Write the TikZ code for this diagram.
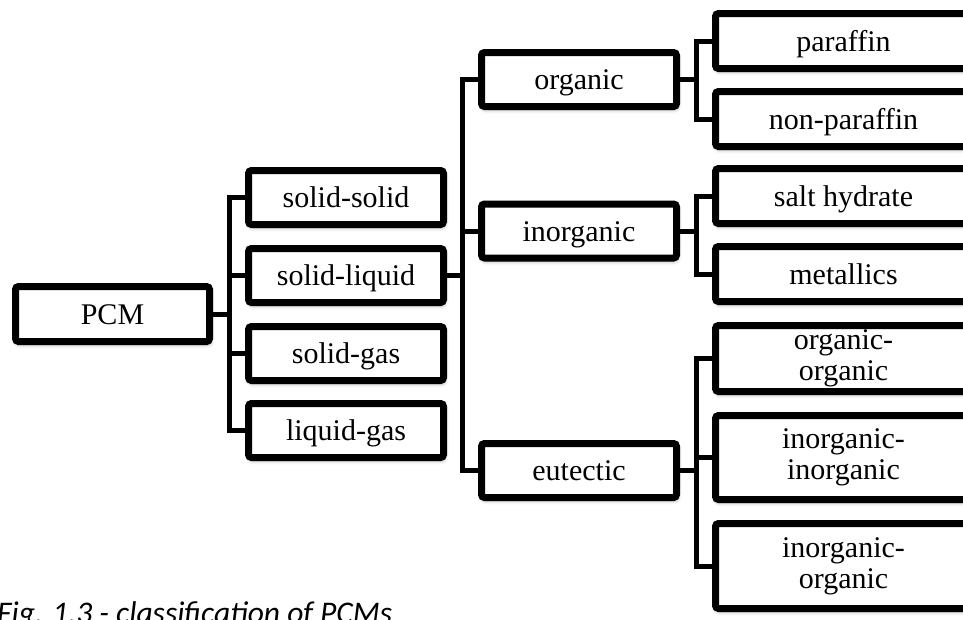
\documentclass[tikz,border=0pt]{standalone}
\usepackage{fontspec}
\setmainfont{Liberation Serif}
\newfontfamily\capfont{Carlito}
\usepackage{tikz}
\usetikzlibrary{positioning,calc,shadows.blur}

\begin{document}
\begin{tikzpicture}[x=1pt, y=-1pt,
    box/.style={rectangle, draw, line width=7pt, rounded corners=3pt, fill=white, align=center, inner sep=1pt,
        font=\fontsize{30}{31}\selectfont,
        blur shadow={shadow xshift=1pt, shadow yshift=-3pt, shadow opacity=40, shadow blur radius=4pt}},
    oneline/.style={text height=22pt, text depth=2pt},
    lvA/.style={box, oneline, minimum width=194pt, minimum height=55pt},
    lvB/.style={box, oneline, minimum width=195pt, minimum height=54pt},
    lvC/.style={box, minimum width=256pt, minimum height=55pt},
    link/.style={line width=5pt}]
    \useasboundingbox (0,0) rectangle (963,619);

    \node [lvA] (pcm) at (112.5,314) {PCM};

    \node [lvB] (ss) at (346,197.5) {solid-solid};
    \node [lvB, below=17pt of ss] (sl) {solid-liquid};
    \node [lvB, below=17pt of sl] (sg) {solid-gas};
    \node [lvB, below=16pt of sg] (lg) {liquid-gas};

    \node [lvB] (org) at (579,79.5) {organic};
    \node [lvB] (inorg) at (579,231) {inorganic};
    \node [lvB] (eut) at (579,470.5) {eutectic};

    \node [lvC, oneline] (par) at (843.5,41) {paraffin};
    \node [lvC, oneline, below=16pt of par] (npar) {non-paraffin};
    \node [lvC, oneline, below=15pt of npar] (salt) {salt hydrate};
    \node [lvC, oneline, below=16pt of salt] (metal) {metallics};
    \node [lvC, minimum height=66pt, below=17pt of metal] (oo) {organic-\\organic};
    \node [lvC, minimum height=84pt, below=17pt of oo] (ii) {inorganic-\\inorganic};
    \node [lvC, minimum height=85pt, below=17pt of ii] (io) {inorganic-\\organic};

    \begin{scope}[on background layer/.try]
    \draw [link] (pcm.east) -- ++(16,0) coordinate (jpcm);
    \foreach \n in {ss,sl,sg,lg}
        \draw [link] (jpcm) |- (\n.west);
    \draw [link] (sl.east) -- ++(15.5,0) coordinate (jsl);
    \foreach \n in {org,inorg,eut}
        \draw [link] (jsl) |- (\n.west);
    \draw [link] (org.east) -- ++(16,0) coordinate (jorg);
    \foreach \n in {par,npar}
        \draw [link] (jorg) |- (\n.west);
    \draw [link] (inorg.east) -- ++(16,0) coordinate (jinorg);
    \foreach \n in {salt,metal}
        \draw [link] (jinorg) |- (\n.west);
    \draw [link] (eut.east) -- ++(16,0) coordinate (jeut);
    \foreach \n in {oo,ii,io}
        \draw [link] (jeut) |- (\n.west);
    \end{scope}

    \node [anchor=base west, inner sep=0pt, font=\fontsize{31.5}{32}\selectfont\capfont\itshape] (cap) at (-3,623) {Fig. 1.3 - classification of PCMs};
\end{tikzpicture}
\end{document}
